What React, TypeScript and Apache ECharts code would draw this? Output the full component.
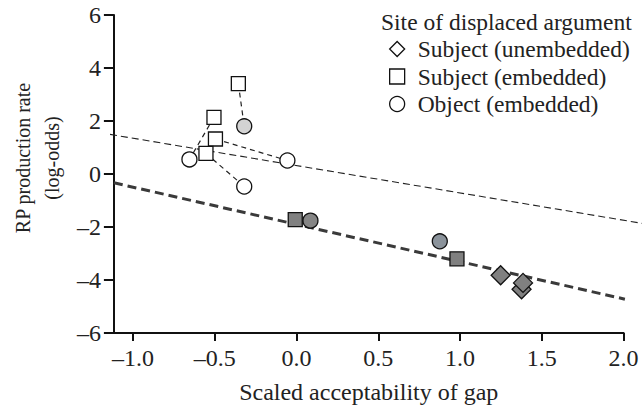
import React, { useEffect, useRef } from "react";
import * as echarts from "echarts";

// ---- data ----
const xTickValues = [-1, -0.5, 0, 0.5, 1, 1.5, 2];
const legendTitle = "Site of displaced argument";
const seriesNames = ["Subject (unembedded)", "Subject (embedded)", "Object (embedded)"];

// [x, y, fill]
const subjUnembedded: [number, number, string][] = [
  [1.376, -4.35, "#808080"],
  [1.385, -4.11, "#808080"],
  [1.248, -3.82, "#808080"],
];
const subjEmbedded: [number, number, string][] = [
  [-0.356, 3.41, "#ffffff"],
  [-0.505, 2.14, "#ffffff"],
  [-0.496, 1.32, "#ffffff"],
  [-0.554, 0.78, "#ffffff"],
  [-0.008, -1.72, "#808080"],
  [0.981, -3.2, "#808080"],
];
const objEmbedded: [number, number, string][] = [
  [-0.32, 1.8, "#d3d3d3"],
  [-0.655, 0.55, "#ffffff"],
  [-0.056, 0.51, "#ffffff"],
  [-0.32, -0.47, "#ffffff"],
  [0.085, -1.76, "#858585"],
  [0.876, -2.54, "#8b939b"],
];
// dashed links between paired items
const pairs: [number, number, number, number][] = [
  [-0.356, 3.41, -0.32, 1.8],
  [-0.505, 2.14, -0.655, 0.55],
  [-0.496, 1.32, -0.056, 0.51],
  [-0.554, 0.78, -0.32, -0.47],
];
const thinFit: [number, number][] = [
  [-1.117, 1.495],
  [2.112, -1.862],
];
const thickFit: [number, number][] = [
  [-1.117, -0.333],
  [2.008, -4.724],
];

const X_MIN = -1.117;
const X_MAX = 2;

const FONT = "Liberation Serif";
const TXT = "#222";

const fmt = (v: number, d: number) => (v < 0 ? "\u2013" : "") + Math.abs(v).toFixed(d);

export default function App() {
  const ref = useRef<HTMLDivElement>(null);
  useEffect(() => {
    if (!ref.current) return;
    const chart = echarts.init(ref.current, null, { renderer: "svg" });
    const W = 642;
    const gLeft = 110;
    const gRight = 18.4;
    const plotW = W - gLeft - gRight;
    const pxPerUnit = plotW / (X_MAX - X_MIN);
    const extMax = X_MIN + (W - gLeft) / pxPerUnit; // wider overlay grid, same scale

    const toPts = (arr: [number, number, string][]) =>
      arr.map(([x, y, c]) => ({ value: [x, y], itemStyle: { color: c } }));
    const scatterBase = {
      type: "scatter",
      z: 5,
      itemStyle: { borderColor: "#111", borderWidth: 1.3, opacity: 1 },
    };
    const legendIcon = { color: "#fff", borderColor: "#111", borderWidth: 1.3 };
    chart.setOption({
      animation: false,
      textStyle: { fontFamily: FONT },
      title: {
        text: legendTitle,
        left: 381,
        top: 10,
        padding: 0,
        textStyle: { fontFamily: FONT, fontSize: 23.5, fontWeight: "normal", color: TXT },
      },
      legend: {
        orient: "vertical",
        left: 389,
        top: 37,
        padding: 0,
        itemWidth: 15,
        itemHeight: 15,
        itemGap: 3.5,
        textStyle: { fontFamily: FONT, fontSize: 23.5, color: TXT, padding: [0, 0, 0, 8] },
        data: [
          { name: seriesNames[0], icon: "diamond", itemStyle: legendIcon },
          { name: seriesNames[1], icon: "rect", itemStyle: legendIcon },
          { name: seriesNames[2], icon: "circle", itemStyle: legendIcon },
        ],
      },
      grid: [
        { left: gLeft, right: gRight, top: 15, bottom: 77 },
        { left: gLeft, right: 0, top: 15, bottom: 77 },
      ],
      xAxis: [
        {
          type: "value",
          gridIndex: 0,
          min: X_MIN,
          max: X_MAX,
          name: "Scaled acceptability of gap",
          nameLocation: "middle",
          nameGap: 47,
          nameTextStyle: { fontFamily: FONT, fontSize: 24, color: TXT },
          axisLine: { onZero: false, lineStyle: { color: "#111", width: 2 } },
          axisTick: { length: 8, lineStyle: { color: "#111", width: 2 }, customValues: xTickValues },
          axisLabel: {
            customValues: xTickValues,
            formatter: (v: number) => fmt(v, 1),
            fontFamily: FONT,
            fontSize: 24,
            color: TXT,
            margin: 13,
          },
          splitLine: { show: false },
        },
        {
          type: "value",
          gridIndex: 1,
          min: X_MIN,
          max: extMax,
          show: false,
        },
      ],
      yAxis: [
        {
          type: "value",
          gridIndex: 0,
          min: -6,
          max: 6,
          interval: 2,
          name: "RP production rate\n(log-odds)",
          nameLocation: "middle",
          nameRotate: 90,
          nameGap: 45,
          nameTextStyle: {
            fontFamily: FONT,
            fontSize: 20,
            color: TXT,
            lineHeight: 29,
            padding: [0, 0, 0, 32],
          },
          axisLine: { show: true, onZero: false, lineStyle: { color: "#111", width: 2 } },
          axisTick: { show: true, length: 10, lineStyle: { color: "#111", width: 2 } },
          axisLabel: {
            formatter: (v: number) => fmt(v, 0),
            fontFamily: FONT,
            fontSize: 24,
            color: TXT,
            margin: 13,
          },
          splitLine: { show: false },
        },
        {
          type: "value",
          gridIndex: 1,
          min: -6,
          max: 6,
          show: false,
        },
      ],
      series: [
        {
          type: "line",
          xAxisIndex: 1,
          yAxisIndex: 1,
          data: thinFit,
          symbol: "none",
          z: 2,
          lineStyle: { color: "#222", width: 1.1, type: [7, 4] },
        },
        {
          type: "line",
          data: thickFit,
          symbol: "none",
          z: 2,
          lineStyle: { color: "#3a3a3a", width: 3, type: [9, 5] },
        },
        ...pairs.map((p) => ({
          type: "line",
          data: [
            [p[0], p[1]],
            [p[2], p[3]],
          ],
          symbol: "none",
          z: 3,
          lineStyle: { color: "#222", width: 1.2, type: [5, 4] },
        })),
        { ...scatterBase, name: seriesNames[0], symbol: "diamond", symbolSize: 19, data: toPts(subjUnembedded) },
        { ...scatterBase, name: seriesNames[1], symbol: "rect", symbolSize: 14, data: toPts(subjEmbedded) },
        { ...scatterBase, name: seriesNames[2], symbol: "circle", symbolSize: 15, data: toPts(objEmbedded) },
      ],
    });
    return () => chart.dispose();
  }, []);
  return (
    <div
      ref={ref}
      style={{ position: "fixed", left: 0, top: 0, width: 642, height: 410, background: "#fff" }}
    />
  );
}
